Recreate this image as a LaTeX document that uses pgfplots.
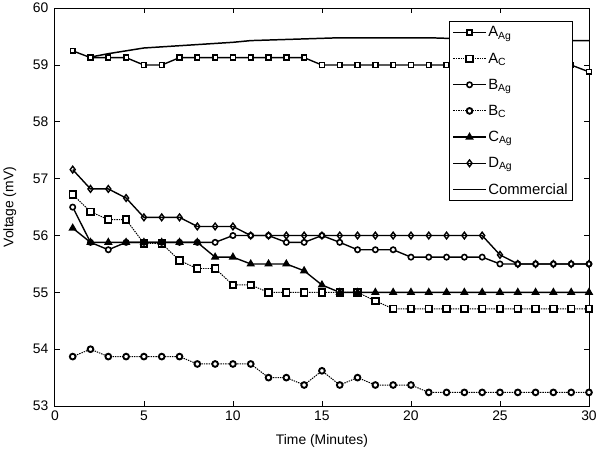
\documentclass[border=0pt]{standalone}
\usepackage{pgfplots}
\pgfplotsset{compat=1.18}
\usepackage{fontspec}
\setmainfont{Liberation Sans}
\begin{document}
\begin{tikzpicture}
\begin{axis}[
  scale only axis,
  width=537bp, height=400bp,
  xmin=0, xmax=30, ymin=53, ymax=60,
  xtick={0,5,...,30}, ytick={53,54,...,60},
  /pgf/number format/assume math mode=true,
  tick label style={font=\fontsize{14}{16}\selectfont},
  yticklabel style={xshift=-3bp},
  xticklabel style={yshift=-1bp},
  label style={font=\fontsize{14}{16}\selectfont},
  xlabel={Time (Minutes)},
  ylabel={Voltage (mV)},
  xlabel style={yshift=-7bp},
  ylabel style={yshift=10bp},
  major tick length=5bp,
  axis line style={line width=0.9pt},
  tick style={line width=0.8pt, black},
  legend style={at={(0.97,0.967)}, anchor=north east, draw=black, line width=0.8pt,
    font=\fontsize{15}{17}\selectfont, row sep=10.5bp, inner xsep=3bp, inner ysep=3bp},
  legend cell align=left,
  legend image code/.code={\draw[mark repeat=2,mark phase=2] plot coordinates {(0cm,0cm)(0.57cm,0cm)(1.14cm,0cm)};},
  every axis plot/.append style={line width=1.4pt, black},
]
% A_Ag
\addplot[solid, mark=square*, mark size=2.4pt, mark options={solid, fill=white, line width=1.6pt}] coordinates {
(1,59.25)(2,59.13)(3,59.13)(4,59.13)(5,59.0)(6,59.0)(7,59.13)(8,59.13)(9,59.13)(10,59.13)
(11,59.13)(12,59.13)(13,59.13)(14,59.13)(15,59.0)(16,59.0)(17,59.0)(18,59.0)(19,59.0)(20,59.0)
(21,59.0)(22,59.0)(23,59.0)(24,59.0)(25,59.0)(26,59.0)(27,59.0)(28,59.0)(29,59.0)(30,58.88)};
\addlegendentry{A\textsubscript{Ag}}
% A_C
\addplot[densely dotted, line width=1pt, mark=square*, mark size=3.3pt, mark options={solid, fill=white, line width=1.8pt}] coordinates {
(1,56.72)(2,56.42)(3,56.28)(4,56.28)(5,55.86)(6,55.86)(7,55.56)(8,55.42)(9,55.42)(10,55.13)
(11,55.13)(12,55.0)(13,55.0)(14,55.0)(15,55.0)(16,55.0)(17,55.0)(18,54.85)(19,54.71)(20,54.71)
(21,54.71)(22,54.71)(23,54.71)(24,54.71)(25,54.71)(26,54.71)(27,54.71)(28,54.71)(29,54.71)(30,54.71)};
\addlegendentry{A\textsubscript{C}}
% B_Ag
\addplot[solid, mark=*, mark size=2.7pt, mark options={solid, fill=white, line width=1.6pt}] coordinates {
(1,56.5)(2,55.88)(3,55.75)(4,55.88)(5,55.88)(6,55.88)(7,55.88)(8,55.88)(9,55.88)(10,56.0)
(11,56.0)(12,56.0)(13,55.88)(14,55.88)(15,56.0)(16,55.88)(17,55.75)(18,55.75)(19,55.75)(20,55.62)
(21,55.62)(22,55.62)(23,55.62)(24,55.62)(25,55.5)(26,55.5)(27,55.5)(28,55.5)(29,55.5)(30,55.5)};
\addlegendentry{B\textsubscript{Ag}}
% B_C
\addplot[densely dotted, line width=1pt, mark=*, mark size=2.9pt, mark options={solid, fill=white, line width=1.9pt}] coordinates {
(1,53.87)(2,54.0)(3,53.87)(4,53.87)(5,53.87)(6,53.87)(7,53.87)(8,53.74)(9,53.74)(10,53.74)
(11,53.74)(12,53.5)(13,53.5)(14,53.37)(15,53.62)(16,53.37)(17,53.5)(18,53.37)(19,53.37)(20,53.37)
(21,53.24)(22,53.24)(23,53.24)(24,53.24)(25,53.24)(26,53.24)(27,53.24)(28,53.24)(29,53.24)(30,53.24)};
\addlegendentry{B\textsubscript{C}}
% C_Ag
\addplot[solid, mark=triangle*, mark size=3.6pt, mark options={solid, fill=black}] coordinates {
(1,56.13)(2,55.88)(3,55.88)(4,55.88)(5,55.88)(6,55.88)(7,55.88)(8,55.88)(9,55.62)(10,55.62)
(11,55.5)(12,55.5)(13,55.5)(14,55.38)(15,55.13)(16,55.0)(17,55.0)(18,55.0)(19,55.0)(20,55.0)
(21,55.0)(22,55.0)(23,55.0)(24,55.0)(25,55.0)(26,55.0)(27,55.0)(28,55.0)(29,55.0)(30,55.0)};
\addlegendentry{C\textsubscript{Ag}}
% D_Ag
\addplot[solid, mark=diamond, mark size=3.4pt, mark options={solid, fill=white, line width=1.4pt}] coordinates {
(1,57.16)(2,56.82)(3,56.82)(4,56.66)(5,56.32)(6,56.32)(7,56.32)(8,56.16)(9,56.16)(10,56.16)
(11,56.0)(12,56.0)(13,56.0)(14,56.0)(15,56.0)(16,56.0)(17,56.0)(18,56.0)(19,56.0)(20,56.0)
(21,56.0)(22,56.0)(23,56.0)(24,56.0)(25,55.66)(26,55.5)(27,55.5)(28,55.5)(29,55.5)(30,55.5)};
\addlegendentry{D\textsubscript{Ag}}
% Commercial
\addplot[solid, no marks, line width=1.5pt] coordinates {
(2,59.14)(3,59.2)(4,59.25)(5,59.3)(6,59.32)(7,59.34)(8,59.36)(9,59.38)(10,59.4)
(11,59.43)(12,59.44)(13,59.45)(14,59.46)(15,59.47)(16,59.48)(17,59.48)(18,59.48)(19,59.48)(20,59.48)
(21,59.48)(22,59.47)(23,59.46)(24,59.45)(25,59.44)(26,59.44)(27,59.43)(28,59.43)(29,59.43)(30,59.43)};
\addlegendentry{Commercial}
\end{axis}
\end{tikzpicture}
\end{document}
